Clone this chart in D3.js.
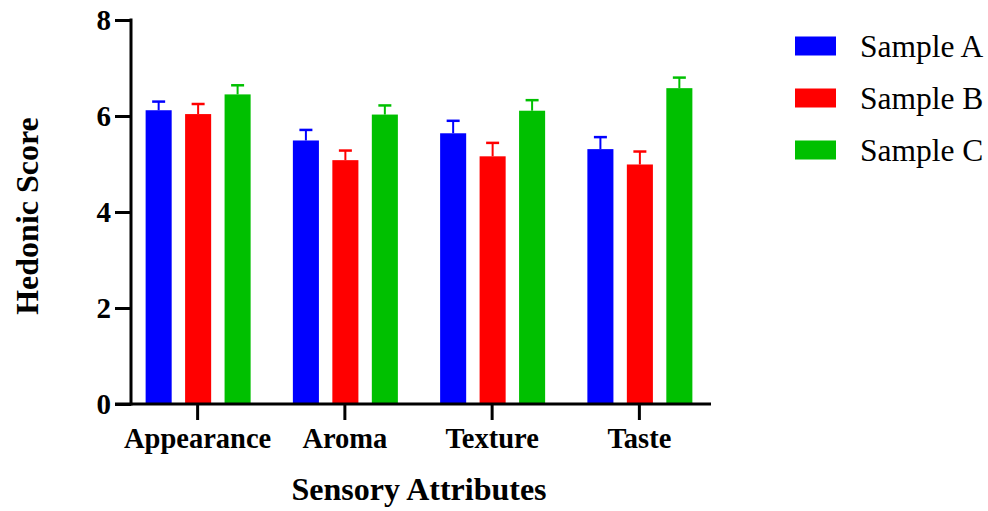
<!DOCTYPE html>
<html>
<head>
<meta charset="utf-8">
<script src="https://cdn.jsdelivr.net/npm/d3@7"></script>
<style>
  body { margin: 0; background: #fff; }
</style>
</head>
<body>
<div id="chart"></div>
<script>
// data
const categories = ["Appearance", "Aroma", "Texture", "Taste"];
const seriesNames = ["Sample A", "Sample B", "Sample C"];
const seriesColors = ["#0000ff", "#ff0000", "#00c000"];
const sampleA = [6.12, 5.49, 5.64, 5.31];
const sampleB = [6.04, 5.08, 5.16, 4.99];
const sampleC = [6.45, 6.03, 6.11, 6.58];
const errA = [0.18, 0.22, 0.26, 0.25];
const errB = [0.21, 0.20, 0.28, 0.27];
const errC = [0.19, 0.19, 0.22, 0.22];
const yTicks = [0, 2, 4, 6, 8];

const width = 988, height = 511;
const serif = '"Liberation Serif"';

const svg = d3.select("#chart").append("svg")
    .attr("width", width)
    .attr("height", height);

const values = [sampleA, sampleB, sampleC];
const errors = [errA, errB, errC];

const rows = [];
categories.forEach((c, i) => {
    seriesNames.forEach((s, j) => {
        rows.push({cat: c, series: s, value: values[j][i], err: errors[j][i], color: seriesColors[j]});
    });
});

// scales
const yScale = d3.scaleLinear().domain([0, 8]).range([404, 20]);
const xScale = d3.scaleBand().domain(categories).range([124, 713]);
const xInner = d3.scaleBand().domain(seriesNames)
    .range([-52, 53]).paddingInner(0.34).paddingOuter(0);

// bars
const bars = svg.append("g");
bars.selectAll("rect")
    .data(rows)
    .join("rect")
    .attr("x", d => xScale(d.cat) + xScale.bandwidth() / 2 + xInner(d.series))
    .attr("width", xInner.bandwidth())
    .attr("y", d => yScale(d.value))
    .attr("height", d => yScale(0) - yScale(d.value))
    .attr("fill", d => d.color);

// error bars (upper only)
const errG = svg.append("g");
const cx = d => xScale(d.cat) + xScale.bandwidth() / 2 + xInner(d.series) + xInner.bandwidth() / 2;
errG.selectAll("line.stem")
    .data(rows)
    .join("line")
    .attr("class", "stem")
    .attr("x1", cx).attr("x2", cx)
    .attr("y1", d => yScale(d.value))
    .attr("y2", d => yScale(d.value + d.err))
    .attr("stroke", d => d.color)
    .attr("stroke-width", 2);
errG.selectAll("line.cap")
    .data(rows)
    .join("line")
    .attr("class", "cap")
    .attr("x1", d => cx(d) - 6.5).attr("x2", d => cx(d) + 6.5)
    .attr("y1", d => yScale(d.value + d.err))
    .attr("y2", d => yScale(d.value + d.err))
    .attr("stroke", d => d.color)
    .attr("stroke-width", 2.5);

// y axis
const yAxis = d3.axisLeft(yScale)
    .tickValues(yTicks)
    .tickSize(16)
    .tickPadding(4)
    .tickSizeOuter(0);
const yAxisG = svg.append("g")
    .attr("transform", "translate(131,0)")
    .call(yAxis)
    .attr("font-family", null);
yAxisG.select(".domain").attr("stroke-width", 3).attr("d", "M0,18.5V405.5");
yAxisG.selectAll(".tick line").attr("stroke-width", 3);
yAxisG.selectAll(".tick text")
    .style("font-family", serif)
    .style("font-size", "29px")
    .style("font-weight", "bold")
    .attr("fill", "#000");

// x axis
const xAxis = d3.axisBottom(xScale)
    .tickSize(16)
    .tickPadding(8)
    .tickSizeOuter(0);
const xAxisG = svg.append("g")
    .attr("transform", "translate(0,404)")
    .call(xAxis)
    .attr("font-family", null);
xAxisG.select(".domain").attr("stroke-width", 3).attr("d", "M115,0H711");
xAxisG.selectAll(".tick line").attr("stroke-width", 3);
xAxisG.selectAll(".tick text")
    .style("font-family", serif)
    .style("font-size", "28.5px")
    .style("font-weight", "bold")
    .attr("fill", "#000");

// axis titles
svg.append("text")
    .attr("x", 419)
    .attr("y", 500)
    .attr("text-anchor", "middle")
    .style("font-family", serif)
    .style("font-size", "32px")
    .style("font-weight", "bold")
    .text("Sensory Attributes");

svg.append("text")
    .attr("transform", "translate(38,216) rotate(-90)")
    .attr("text-anchor", "middle")
    .style("font-family", serif)
    .style("font-size", "32px")
    .style("font-weight", "bold")
    .text("Hedonic Score");

// legend
const legend = svg.append("g").attr("transform", "translate(795,46)");
const items = legend.selectAll("g")
    .data(seriesNames)
    .join("g")
    .attr("transform", (d, i) => `translate(0,${i * 52})`);
items.append("rect")
    .attr("x", 0).attr("y", -9.5)
    .attr("width", 41).attr("height", 19)
    .attr("fill", (d, i) => seriesColors[i]);
items.append("text")
    .attr("x", 65)
    .attr("y", 10.5)
    .style("font-family", serif)
    .style("font-size", "31.5px")
    .attr("fill", "#000")
    .text(d => d);
</script>
</body>
</html>
